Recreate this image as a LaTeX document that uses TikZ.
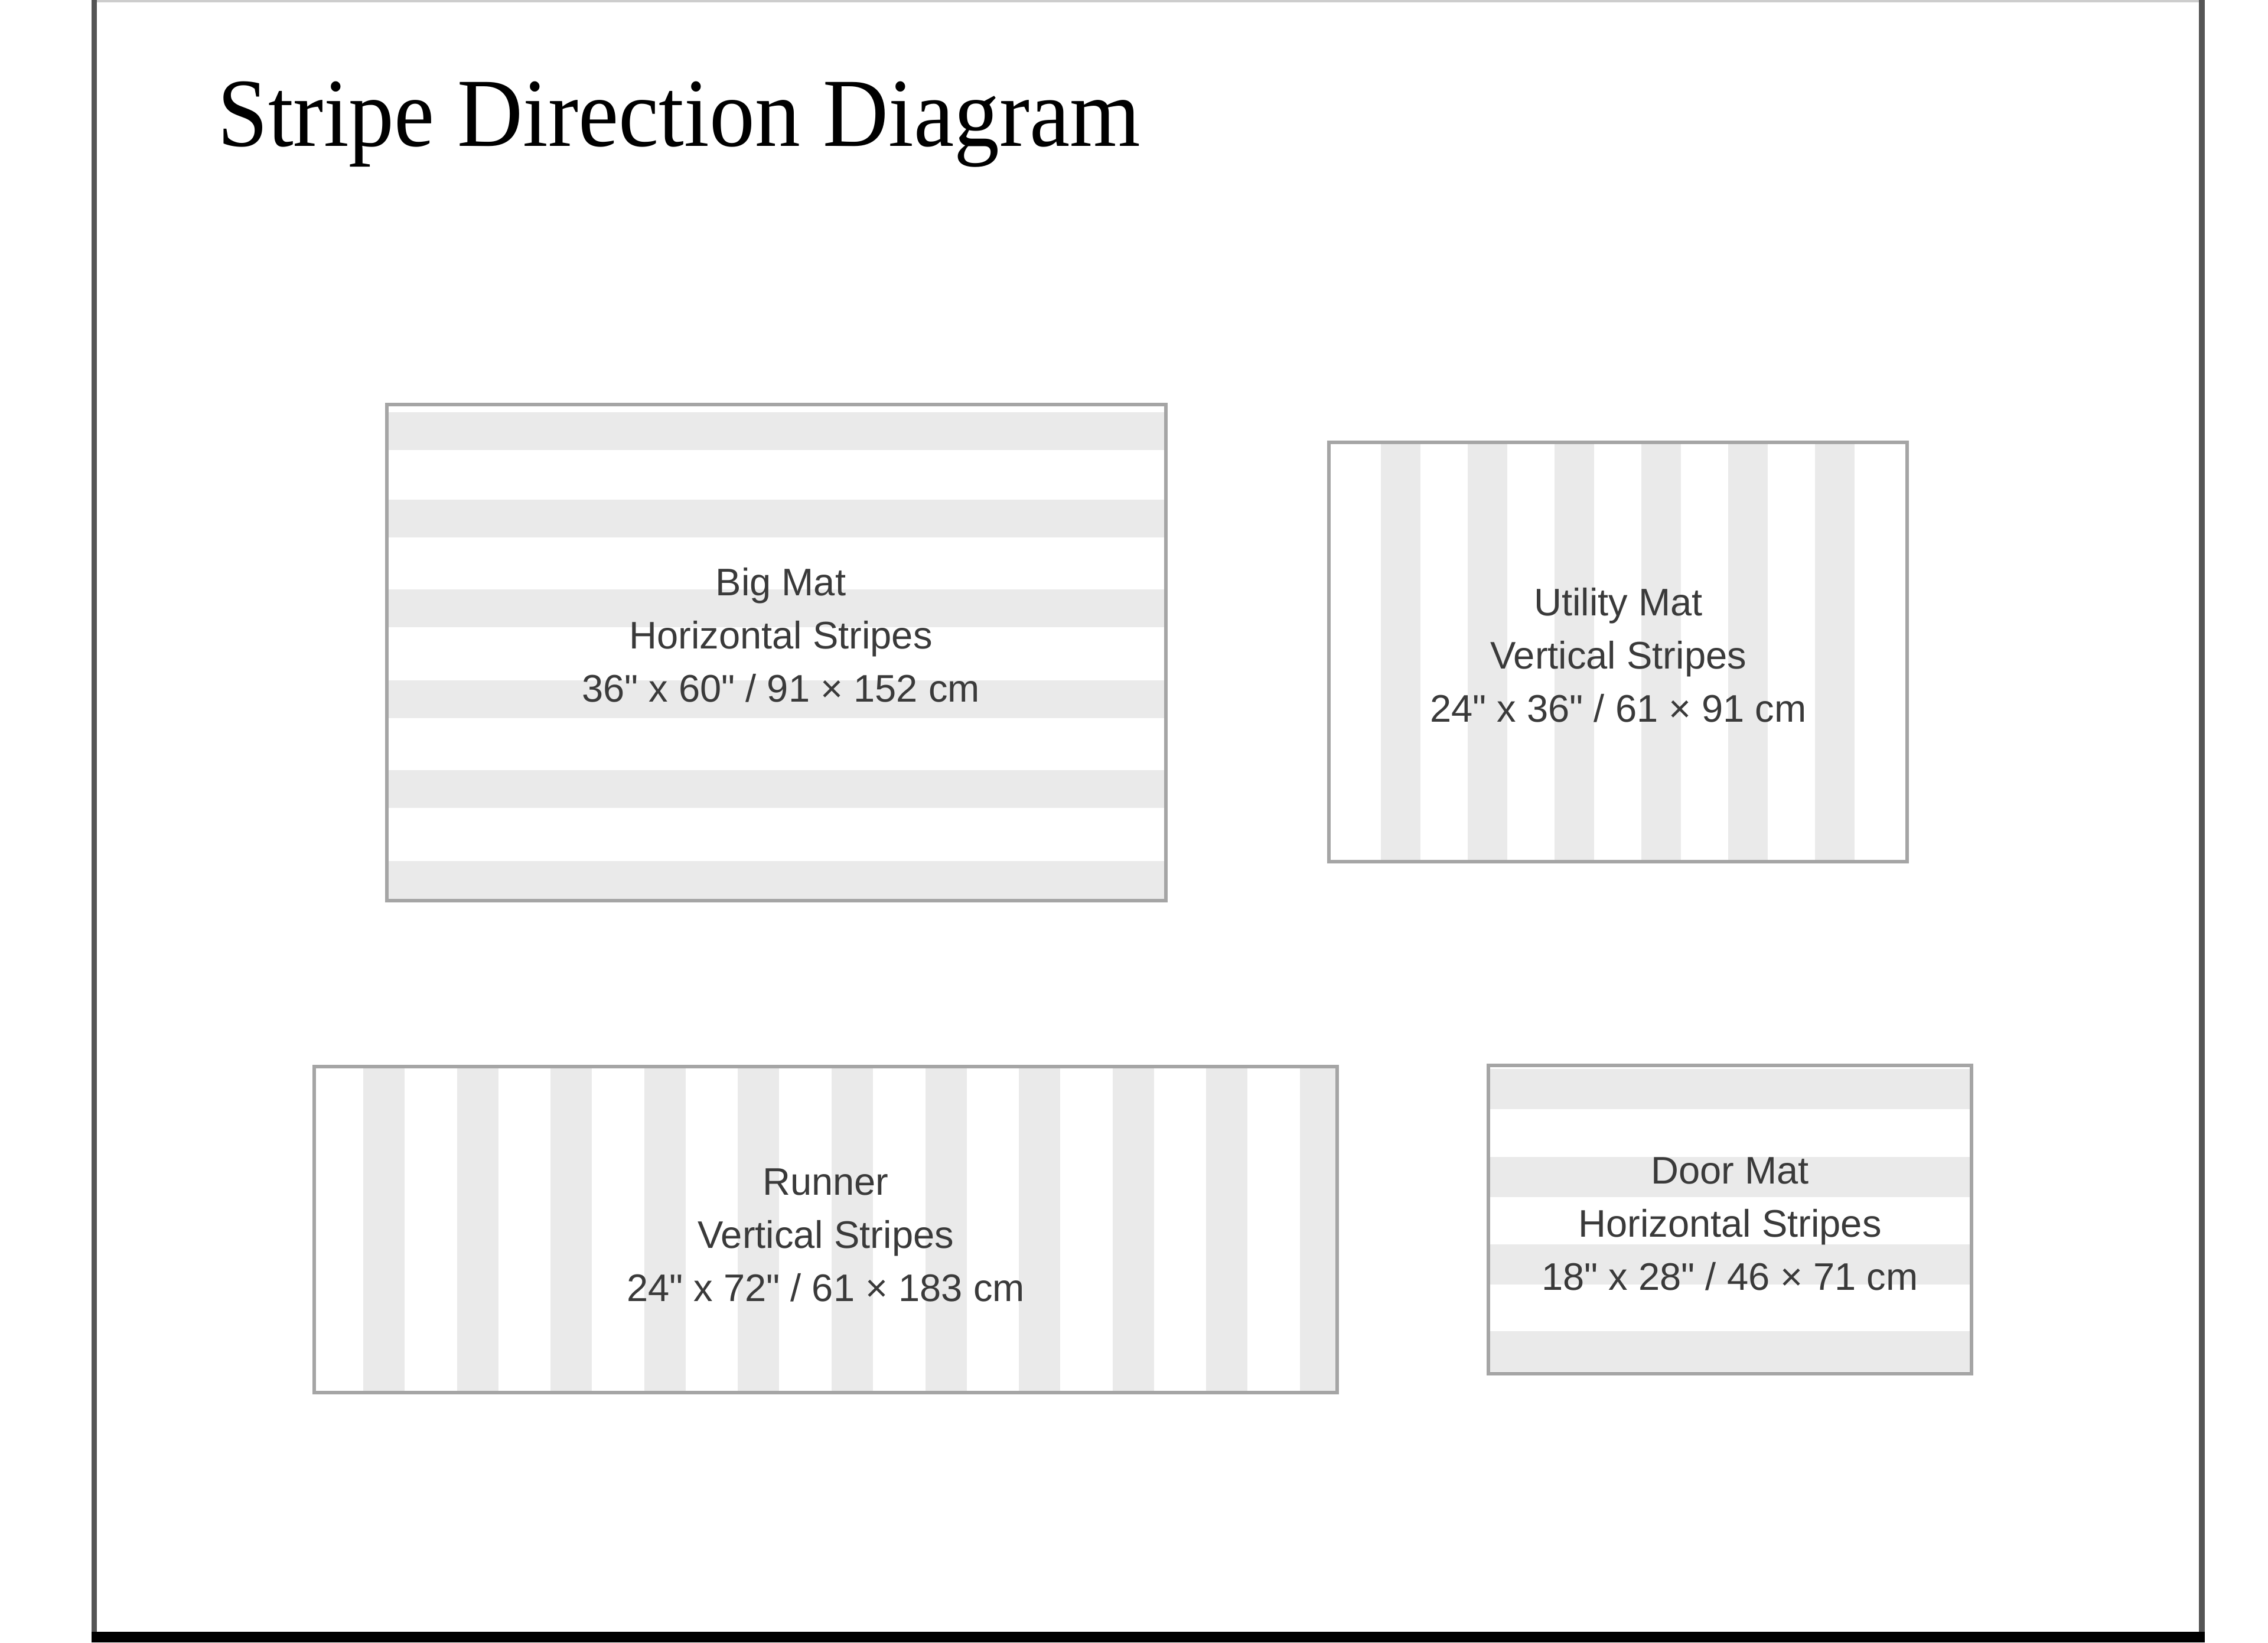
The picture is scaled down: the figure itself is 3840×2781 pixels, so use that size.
\documentclass[tikz,border=0pt]{standalone}
\usepackage{fontspec}
\setmainfont{Liberation Serif}
\newfontfamily\titlefont[FakeStretch=0.93]{Liberation Serif}
\newfontfamily\labelfont{Liberation Sans}
\definecolor{stripecol}{RGB}{234,234,234}
\definecolor{bordercol}{RGB}{165,165,165}
\definecolor{txtcol}{RGB}{58,58,58}
\definecolor{framecol}{RGB}{85,85,85}
\definecolor{topcol}{RGB}{205,205,205}
\begin{document}
\begin{tikzpicture}[x=0.01cm,y=-0.01cm,
  stripe/.style={fill=stripecol},
  matbox/.style={draw=bordercol,line width=1.7pt},
  lbl/.style={font=\labelfont\fontsize{18.5}{25.6}\selectfont,text=txtcol,align=center,inner sep=0pt},
  titlestyle/.style={font=\titlefont\fontsize{47}{56}\selectfont,text=black,inner sep=0pt,anchor=base west}]
% canvas
\fill[white] (0,0) rectangle (3840,2781);
\useasboundingbox (0,0) rectangle (3840,2781);
% frame
\fill[topcol] (156,0) rectangle (3733,4);
\fill[framecol] (155,0) rectangle (164,2781);
\fill[framecol] (3723,0) rectangle (3733,2781);
\fill[black] (155,2763) rectangle (3733,2781);
% title
\node[titlestyle] (title) at (368,247) {Stripe Direction Diagram};

% Big Mat (horizontal stripes)
\begin{scope}
  \clip (655,685) rectangle (1974,1525);
  \foreach \s in {698,846,998,1152,1304,1458}
    \fill[stripe] (655,\s) rectangle (1974,\s+64);
\end{scope}
\draw[matbox] (655,685) rectangle (1974,1525);
\node[lbl] (bigmat) at (1322,1075) {Big Mat\\Horizontal Stripes\\36" x 60" / 91 × 152 cm};

% Utility Mat (vertical stripes)
\begin{scope}
  \clip (2250,749) rectangle (3229,1459);
  \foreach \s in {2338,2485,2632,2779,2926,3073}
    \fill[stripe] (\s,749) rectangle (\s+67,1459);
\end{scope}
\draw[matbox] (2250,749) rectangle (3229,1459);
\node[lbl] (utility) at (2740,1109) {Utility Mat\\Vertical Stripes\\24" x 36" / 61 × 91 cm};

% Runner (vertical stripes)
\begin{scope}
  \clip (532,1806) rectangle (2264,2358);
  \foreach \i in {0,...,10}
    \fill[stripe] (615+158.6*\i,1806) rectangle (685+158.6*\i,2358);
\end{scope}
\draw[matbox] (532,1806) rectangle (2264,2358);
\node[lbl] (runner) at (1398,2091) {Runner\\Vertical Stripes\\24" x 72" / 61 × 183 cm};

% Door Mat (horizontal stripes)
\begin{scope}
  \clip (2520,1804) rectangle (3338,2326);
  \foreach \s in {1810,1959,2107,2254}
    \fill[stripe] (2520,\s) rectangle (3338,\s+68);
\end{scope}
\draw[matbox] (2520,1804) rectangle (3338,2326);
\node[lbl] (doormat) at (2929,2072) {Door Mat\\Horizontal Stripes\\18" x 28" / 46 × 71 cm};
\end{tikzpicture}
\end{document}
